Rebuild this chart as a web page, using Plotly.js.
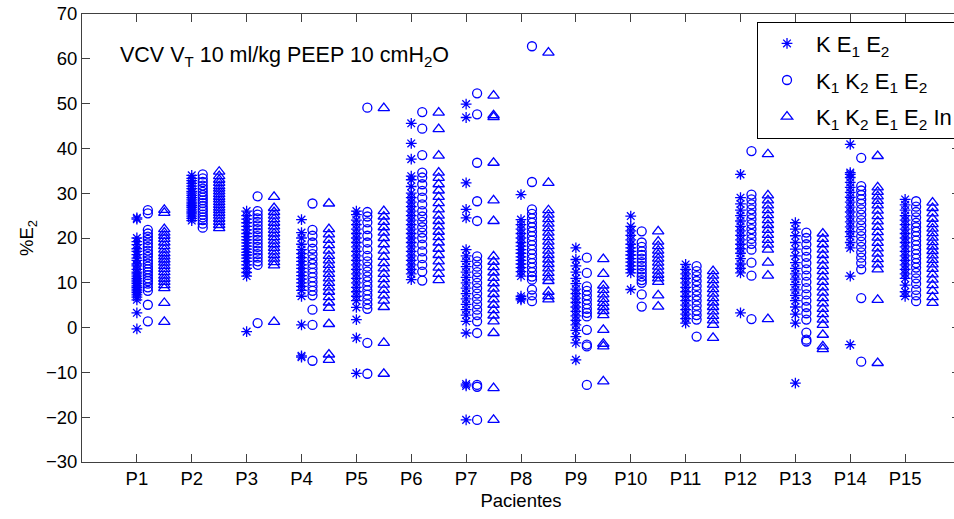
<!DOCTYPE html>
<html>
<head>
<meta charset="utf-8">
<script src="https://cdn.plot.ly/plotly-3.0.1.min.js"></script>
<style>
html, body { margin: 0; padding: 0; overflow: hidden; background: #fff; }
#wrap { width: 954px; height: 519px; overflow: hidden; position: relative; }
#chart { width: 975px; height: 519px; }
</style>
</head>
<body>
<div id="wrap"><div id="chart"></div></div>
<script>
const patients = ['P1','P2','P3','P4','P5','P6','P7','P8','P9','P10','P11','P12','P13','P14','P15'];

// K E1 E2 (asterisks)
const kE1E2 = [
  [24.5, 24.2, 20.0, 19.2, 18.5, 17.6, 17.0, 16.3, 15.5, 15.0, 14.2, 13.8, 13.0, 12.4, 12.0, 11.5, 11.0, 10.6, 10.2, 9.8, 9.3, 9.0, 8.6, 8.2, 7.8, 7.3, 6.8, 6.2, 3.3, -0.3],
  [34.0, 33.3, 32.8, 32.2, 31.6, 31.0, 30.4, 30.0, 29.5, 29.0, 28.5, 28.0, 27.6, 27.2, 26.8, 26.3, 25.8, 25.4, 24.9, 24.4, 23.9],
  [26.0, 25.0, 24.2, 23.4, 22.6, 21.8, 21.0, 20.3, 19.6, 18.9, 18.2, 17.5, 16.8, 16.2, 15.5, 14.8, 14.0, 13.2, 12.3, 11.5, -0.9],
  [24.1, 21.2, 20.0, 18.6, 17.4, 16.5, 15.6, 14.8, 14.0, 13.2, 12.4, 11.6, 10.8, 10.0, 9.2, 8.3, 7.0, 0.6, -6.3, -6.6],
  [26.0, 25.2, 24.0, 23.0, 22.0, 21.0, 20.0, 19.0, 18.0, 17.0, 16.0, 15.0, 14.0, 13.0, 12.0, 11.0, 10.0, 9.0, 8.0, 7.0, 6.0, 4.5, 1.8, -2.3, -10.2],
  [45.6, 41.1, 37.6, 33.8, 33.0, 31.5, 30.0, 29.0, 28.0, 27.0, 26.0, 25.0, 24.0, 23.0, 22.0, 21.0, 20.0, 19.0, 18.0, 17.0, 16.0, 15.0, 14.0, 13.0, 12.0, 10.7],
  [49.9, 46.9, 32.3, 26.4, 24.5, 17.4, 16.0, 14.8, 13.6, 12.4, 11.2, 10.0, 8.8, 7.6, 6.4, 5.2, 4.0, 2.8, 1.4, -1.2, -12.6, -13.0, -20.6],
  [29.7, 24.1, 23.0, 22.0, 21.0, 20.0, 19.0, 18.2, 17.4, 16.6, 15.8, 15.0, 14.2, 13.4, 12.5, 11.5, 7.0, 6.5, 6.2],
  [17.8, 15.2, 13.8, 12.4, 11.0, 9.8, 8.6, 7.6, 6.6, 5.6, 4.6, 3.6, 2.6, 1.6, 0.6, -0.6, -2.0, -3.4, -7.2],
  [24.9, 22.6, 21.6, 20.6, 19.6, 18.6, 17.8, 17.0, 16.2, 15.4, 14.6, 13.8, 13.0, 12.2, 8.5],
  [14.1, 13.0, 12.0, 11.0, 10.0, 9.0, 8.0, 7.0, 6.0, 5.0, 4.0, 3.0, 2.0, 1.0],
  [34.2, 29.0, 27.6, 26.2, 25.0, 23.8, 22.6, 21.6, 20.6, 19.6, 18.6, 17.6, 16.6, 15.4, 14.2, 13.2, 12.2, 3.3],
  [23.4, 22.0, 20.5, 19.0, 17.5, 16.0, 14.5, 13.2, 12.0, 10.8, 9.6, 8.4, 7.2, 6.0, 4.6, 3.0, 1.0, -12.4],
  [40.9, 34.6, 34.2, 33.5, 32.4, 31.3, 30.2, 29.1, 28.0, 26.9, 25.8, 24.7, 23.6, 22.5, 21.4, 20.3, 19.0, 17.8, 11.5, -3.8],
  [28.6, 27.4, 26.2, 25.0, 24.0, 23.0, 22.0, 21.0, 20.0, 19.0, 18.0, 17.0, 16.0, 15.0, 14.0, 13.0, 12.0, 11.0, 9.5, 8.0, 7.0]
];

// K1 K2 E1 E2 (circles)
const k1k2E1E2 = [
  [26.2, 25.5, 21.8, 21.0, 20.3, 19.6, 18.8, 18.0, 17.2, 16.5, 15.8, 15.0, 14.3, 13.6, 13.0, 12.4, 11.7, 11.0, 10.4, 9.8, 9.0, 8.2, 5.1, 1.4],
  [34.2, 33.3, 32.5, 31.7, 31.0, 30.3, 29.6, 29.0, 28.4, 27.8, 27.1, 26.5, 25.9, 25.2, 24.6, 24.0, 23.2, 22.3],
  [29.3, 26.0, 25.2, 24.4, 23.6, 22.8, 22.0, 21.2, 20.4, 19.6, 18.8, 18.0, 17.2, 16.4, 15.6, 14.8, 14.0, 1.0],
  [27.7, 21.8, 20.5, 19.0, 17.6, 16.4, 15.3, 14.2, 13.2, 12.2, 11.2, 10.2, 9.2, 8.2, 7.2, 4.0, 0.6, -7.4],
  [49.1, 25.8, 24.8, 23.5, 22.0, 20.5, 19.0, 17.5, 16.0, 14.8, 13.6, 12.5, 11.4, 10.3, 9.3, 8.3, 7.3, 6.3, 5.2, 4.2, -3.4, -10.3],
  [48.1, 44.4, 38.5, 34.6, 33.5, 32.0, 30.5, 29.0, 27.5, 26.0, 24.8, 23.6, 22.4, 21.2, 20.0, 18.5, 17.0, 15.5, 14.0, 12.5, 10.5],
  [52.3, 47.6, 36.8, 28.2, 23.8, 15.9, 14.8, 13.6, 12.4, 11.2, 10.0, 8.8, 7.6, 6.4, 5.2, 4.0, 2.8, 1.4, -1.2, -12.8, -13.2, -20.6],
  [62.8, 32.5, 26.4, 25.4, 24.4, 23.4, 22.4, 21.4, 20.4, 19.4, 18.4, 17.4, 16.4, 15.4, 14.4, 13.4, 12.4, 11.4, 10.7, 8.5, 7.2, 5.9],
  [15.6, 12.2, 9.2, 8.2, 7.2, 6.2, 5.2, 4.2, 3.3, 2.5, -0.5, -3.8, -4.2, -12.8],
  [21.5, 19.0, 18.0, 17.0, 16.2, 15.4, 14.6, 13.8, 13.0, 12.2, 11.4, 10.6, 10.0, 7.4, 4.7],
  [13.7, 12.6, 11.5, 10.4, 9.3, 8.2, 7.1, 6.0, 4.9, 3.8, 2.8, 1.8, -2.0],
  [39.4, 29.7, 28.6, 27.5, 26.4, 25.3, 24.2, 23.1, 22.0, 20.9, 19.8, 18.7, 17.4, 14.5, 11.6, 1.9],
  [21.2, 20.0, 18.6, 17.2, 15.8, 14.4, 13.0, 11.6, 10.2, 8.8, 7.4, 6.0, 4.6, 3.2, 1.8, -1.1, -2.7, -3.1],
  [37.9, 31.6, 30.6, 29.6, 28.6, 27.6, 26.4, 25.2, 24.0, 22.8, 21.6, 20.4, 19.2, 18.0, 16.8, 15.6, 14.4, 13.0, 6.6, -7.6],
  [28.2, 27.0, 25.8, 24.6, 23.4, 22.4, 21.4, 20.4, 19.4, 18.4, 17.4, 16.4, 15.4, 14.4, 13.4, 12.2, 11.0, 9.8, 8.4, 7.2, 5.9]
];

// K1 K2 E1 E2 In (triangles)
const k1k2E1E2In = [
  [26.3, 25.6, 22.0, 21.2, 20.5, 19.8, 19.0, 18.2, 17.4, 16.6, 15.9, 15.2, 14.5, 13.8, 13.1, 12.4, 11.6, 10.9, 10.2, 9.5, 8.8, 5.5, 1.3],
  [34.8, 33.8, 33.0, 32.3, 31.6, 31.0, 30.4, 29.8, 29.2, 28.6, 28.0, 27.4, 26.8, 26.2, 25.6, 25.0, 24.3, 23.6, 22.9, 22.2],
  [29.2, 26.7, 25.8, 25.0, 24.2, 23.4, 22.6, 21.8, 21.0, 20.2, 19.4, 18.6, 17.8, 17.0, 16.2, 15.4, 14.6, 13.9, 1.3],
  [27.7, 22.0, 20.8, 19.6, 18.4, 17.2, 16.0, 15.0, 14.0, 13.0, 12.0, 11.0, 10.0, 9.0, 8.0, 6.8, 5.6, 4.4, 0.8, -6.0, -7.2],
  [49.0, 26.0, 24.8, 23.6, 22.4, 21.2, 20.0, 18.6, 17.2, 15.8, 14.4, 13.2, 12.0, 10.8, 9.6, 8.4, 7.2, 6.0, 4.6, -3.4, -10.3],
  [48.0, 44.3, 38.4, 34.6, 33.4, 32.0, 30.6, 29.2, 27.8, 26.4, 25.0, 23.8, 22.6, 21.4, 20.2, 19.0, 17.6, 16.2, 14.8, 13.4, 12.0, 10.6],
  [51.8, 47.4, 47.0, 36.8, 28.4, 23.8, 15.9, 14.7, 13.5, 12.3, 11.1, 9.9, 8.7, 7.5, 6.3, 5.1, 3.9, 2.7, 1.4, -1.2, -13.5, -20.6],
  [61.4, 32.3, 26.2, 25.2, 24.2, 23.2, 22.2, 21.2, 20.2, 19.2, 18.2, 17.2, 16.2, 15.2, 14.2, 13.2, 12.2, 11.2, 10.4, 8.0, 7.0, 6.3],
  [15.3, 12.0, 9.4, 8.4, 7.4, 6.4, 5.5, 4.6, 3.7, 2.8, -0.5, -3.6, -4.2, -12.0],
  [21.5, 19.2, 18.2, 17.2, 16.3, 15.4, 14.5, 13.6, 12.7, 11.8, 11.0, 10.2, 7.2, 4.7],
  [12.6, 11.6, 10.6, 9.6, 8.6, 7.6, 6.6, 5.6, 4.6, 3.6, 2.6, 1.6, 0.6, -2.3],
  [38.7, 29.5, 28.4, 27.3, 26.2, 25.1, 24.0, 22.9, 21.8, 20.7, 19.6, 18.5, 17.4, 14.5, 11.6, 1.9],
  [21.0, 19.8, 18.6, 17.4, 16.2, 15.0, 13.8, 12.6, 11.4, 10.2, 9.0, 7.8, 6.6, 5.4, 4.2, 3.0, 1.8, 0.6, -1.6, -4.2, -4.8],
  [38.3, 31.3, 30.3, 29.3, 28.3, 27.3, 26.1, 24.9, 23.7, 22.5, 21.3, 20.1, 18.9, 17.7, 16.5, 15.3, 14.1, 13.0, 6.2, -7.9],
  [27.9, 26.7, 25.5, 24.3, 23.1, 22.1, 21.1, 20.1, 19.1, 18.1, 17.1, 16.1, 15.1, 14.1, 13.1, 11.9, 10.7, 9.5, 8.2, 6.8, 5.5]
];

const seriesNames = [
  'K E<sub>1</sub> E<sub>2</sub>',
  'K<sub>1</sub> K<sub>2</sub> E<sub>1</sub> E<sub>2</sub>',
  'K<sub>1</sub> K<sub>2</sub> E<sub>1</sub> E<sub>2</sub> In'
];

function flatten(series, offset) {
  const x = [], y = [];
  series.forEach((vals, i) => {
    vals.forEach(v => { x.push(i + 1 + offset); y.push(v); });
  });
  return { x, y };
}

const blue = '#0000ff';
const FONT = 'Liberation Sans, Arial, sans-serif';
const specs = [
  { data: kE1E2, off: 0, symbol: 'asterisk-open', size: 9 },
  { data: k1k2E1E2, off: 0.2, symbol: 'circle-open', size: 9 },
  { data: k1k2E1E2In, off: 0.5, symbol: 'triangle-up-open', size: 10 }
];

const traces = specs.map((s, k) => {
  const d = flatten(s.data, s.off);
  return {
    type: 'scatter', mode: 'markers', name: seriesNames[k], legendgroup: 'g' + k,
    x: d.x, y: d.y,
    marker: { symbol: s.symbol, size: s.size, color: blue, line: { color: blue, width: 1.3 } }
  };
});

const axisCommon = {
  showline: true, linecolor: '#404040', linewidth: 1,
  ticks: 'inside', ticklen: 8, tickcolor: '#404040', tickwidth: 1,
  mirror: 'ticks', showgrid: false, zeroline: false,
  tickfont: { family: FONT, size: 18.5, color: '#000' }
};

const layout = {
  width: 975, height: 519,
  margin: { l: 82, r: 15, t: 14, b: 57 },
  paper_bgcolor: '#fff', plot_bgcolor: '#fff',
  font: { family: FONT, color: '#000' },
  showlegend: true,
  xaxis: Object.assign({}, axisCommon, {
    range: [0, 16], tickmode: 'array',
    tickvals: patients.map((p, i) => i + 1), ticktext: patients,
    title: { text: 'Pacientes', font: { family: FONT, size: 18.5 }, standoff: 5 }
  }),
  yaxis: Object.assign({}, axisCommon, {
    range: [-30, 70], tickmode: 'linear', tick0: -30, dtick: 10,
    title: { text: '%E<sub>2</sub>', font: { family: FONT, size: 18.5 }, standoff: 7 }
  }),
  legend: {
    x: 0.7688, y: 0.983, xanchor: 'left', yanchor: 'top',
    bgcolor: '#fff', bordercolor: '#000', borderwidth: 1,
    itemwidth: 48, tracegroupgap: 5,
    font: { family: FONT, size: 22, color: '#000' }
  },
  annotations: [{
    xref: 'x', yref: 'y', x: 0.66, y: 60.6, xanchor: 'left', yanchor: 'middle',
    text: 'VCV V<sub>T</sub> 10 ml/kg PEEP 10 cmH<sub>2</sub>O', showarrow: false,
    font: { family: FONT, size: 21.5, color: '#000' }
  }]
};

Plotly.newPlot('chart', traces, layout, { displayModeBar: false, staticPlot: true });
</script>
</body>
</html>
